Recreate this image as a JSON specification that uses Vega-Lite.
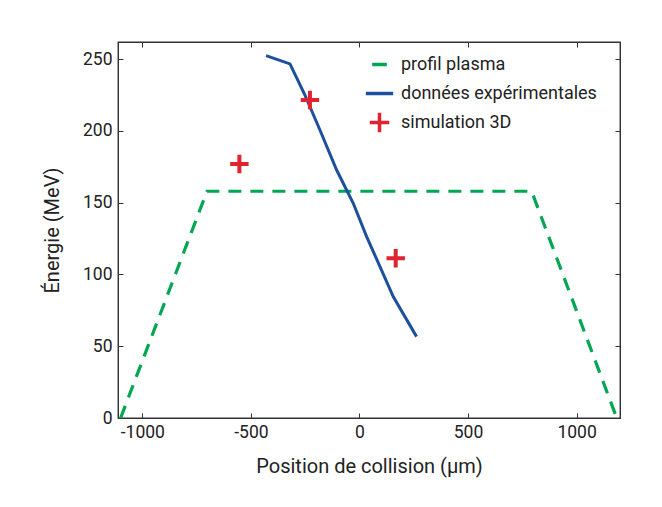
{
  "$schema": "https://vega.github.io/schema/vega-lite/v6.json",
  "width": 502,
  "height": 376,
  "autosize": {"type": "none"},
  "padding": {"left": 118, "top": 42, "right": 42, "bottom": 89},
  "background": "white",
  "config": {
    "font": "Roboto",
    "view": {"stroke": "#333", "strokeWidth": 1.3},
    "axis": {
      "domainColor": "#333",
      "tickColor": "#333",
      "tickSize": -5,
      "labelFontSize": 17.5,
      "labelColor": "#222",
      "labelFont": "Roboto",
      "titleFont": "Roboto",
      "titleFontSize": 20,
      "titleFontWeight": "normal",
      "titleColor": "#222",
      "grid": false
    }
  },
  "datasets": {
    "plasma": [
      {"x": -1100, "y": 0},
      {"x": -702, "y": 158},
      {"x": 793, "y": 158},
      {"x": 1185, "y": 0}
    ],
    "exp": [
      {"x": -430, "y": 252.5},
      {"x": -320, "y": 246.7},
      {"x": -251, "y": 225},
      {"x": -182, "y": 200.7},
      {"x": -105, "y": 172.8},
      {"x": -28.5, "y": 149.6},
      {"x": 33, "y": 126.4},
      {"x": 94.5, "y": 105.5},
      {"x": 156, "y": 84.5},
      {"x": 263, "y": 56.7}
    ],
    "sim": [
      {"x": -553, "y": 177, "series": "simulation 3D"},
      {"x": -228, "y": 221.6, "series": "simulation 3D"},
      {"x": 167, "y": 111.3, "series": "simulation 3D"}
    ]
  },
  "layer": [
    {
      "data": {"name": "plasma"},
      "mark": {"type": "line", "color": "#00a651", "strokeWidth": 3.2, "strokeDash": [13, 9]},
      "encoding": {
        "x": {
          "field": "x", "type": "quantitative",
          "scale": {"domain": [-1112, 1200], "nice": false, "zero": false},
          "axis": {"orient": "bottom", "values": [-1000, -500, 0, 500, 1000], "labelPadding": 10, "labelExpr": "toString(datum.value)", "title": "Position de collision (μm)", "titlePadding": 16}
        },
        "y": {
          "field": "y", "type": "quantitative",
          "scale": {"domain": [0, 262], "nice": false},
          "axis": {"orient": "left", "values": [0, 50, 100, 150, 200, 250], "labelPadding": 11, "title": "Énergie (MeV)", "titlePadding": 20}
        }
      }
    },
    {
      "data": {"name": "exp"},
      "mark": {"type": "line", "color": "#1c4f9c", "strokeWidth": 3},
      "encoding": {
        "x": {
          "field": "x", "type": "quantitative",
          "scale": {"domain": [-1112, 1200], "nice": false, "zero": false},
          "axis": {"orient": "top", "values": [-1000, -500, 0, 500, 1000], "labels": false, "title": null}
        },
        "y": {
          "field": "y", "type": "quantitative",
          "scale": {"domain": [0, 262], "nice": false},
          "axis": {"orient": "right", "values": [0, 50, 100, 150, 200, 250], "labels": false, "title": null}
        }
      }
    },
    {
      "data": {"name": "sim"},
      "mark": {"type": "point", "filled": false, "strokeWidth": 4, "size": 340, "opacity": 1},
      "encoding": {
        "x": {
          "field": "x", "type": "quantitative",
          "scale": {"domain": [-1112, 1200], "nice": false, "zero": false},
          "axis": null
        },
        "y": {
          "field": "y", "type": "quantitative",
          "scale": {"domain": [0, 262], "nice": false},
          "axis": null
        },
        "color": {
          "field": "series", "type": "nominal",
          "scale": {"domain": ["profil plasma", "données expérimentales", "simulation 3D"], "range": ["#00a651", "#1c4f9c", "#e0242f"]},
          "legend": {"title": null, "orient": "none", "legendX": 250, "legendY": 11, "symbolSize": 380, "symbolStrokeWidth": 3.5, "labelFontSize": 18, "labelColor": "#222", "labelFont": "Roboto", "labelOffset": 10, "rowPadding": -10.5, "padding": 0, "labelLimit": 300}
        },
        "shape": {
          "field": "series", "type": "nominal",
          "scale": {"domain": ["profil plasma", "données expérimentales", "simulation 3D"], "range": ["M0,-1M0,1M-0.75,0H0.75", "M0,-1M0,1M-1.4,0H1.4", "M-1,0H1M0,-1V1"]},
          "legend": {"title": null, "orient": "none", "legendX": 250, "legendY": 11, "symbolSize": 380, "symbolStrokeWidth": 3.5, "labelFontSize": 18, "labelColor": "#222", "labelFont": "Roboto", "labelOffset": 10, "rowPadding": -10.5, "padding": 0, "labelLimit": 300}
        }
      }
    }
  ],
  "resolve": {"axis": {"x": "independent", "y": "independent"}}
}
